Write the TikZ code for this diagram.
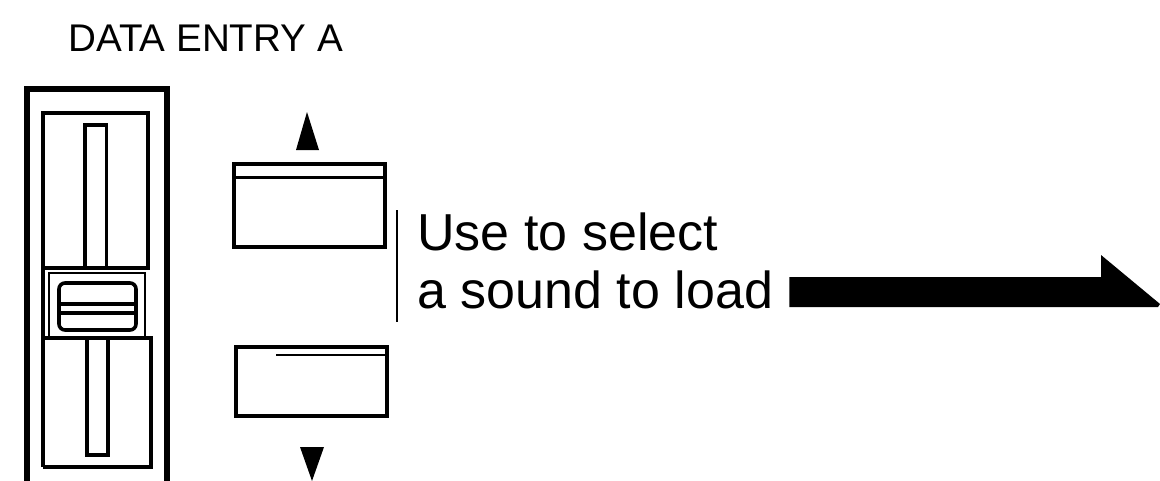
\documentclass[tikz,border=0pt]{standalone}
\usepackage{fontspec}
\setmainfont{Liberation Sans}
\usetikzlibrary{positioning,calc}

\begin{document}
\begin{tikzpicture}[x=0.5pt, y=-0.5pt]
    % Define styles
    \tikzstyle{heavy line} = [line width=3pt]
    \tikzstyle{frame line} = [line width=2.2pt]
    \tikzstyle{slot line} = [line width=1.8pt]
    \tikzstyle{hair line} = [line width=0.8pt]
    \tikzstyle{key} = [rectangle, draw, line width=2pt, inner sep=0pt]
    \tikzstyle{small caps text} = [inner sep=0pt, anchor=base west, font=\fontsize{19.3}{22}\selectfont]
    \tikzstyle{label text} = [inner sep=0pt, anchor=base west, font=\fontsize{26}{29}\selectfont]

    \useasboundingbox (0,0) rectangle (1160,481);

    % Title
    \node[small caps text] (title) at (68,52) {DATA ENTRY A};

    % Fader housing
    \draw[heavy line] (26.5,481) -- (26.5,89.5) -- (166.5,89.5) -- (166.5,481);
    \draw[frame line] (43,467) -- (43,113) -- (148,113) -- (148,268) -- (43,268);
    \draw[frame line] (43,338) -- (151,338) -- (151,467) -- (43,467);
    \draw[slot line] (85,268) -- (85,125) -- (106.5,125) -- (106.5,268);
    \draw[slot line] (87,338) -- (87,455) -- (108,455) -- (108,338);

    % Fader knob
    \draw[line width=1.2pt] (49,273) rectangle (145,338);
    \draw[slot line, rounded corners=3pt] (59,283) rectangle (136,330);
    \draw[slot line] (59,304) -- (136,304);
    \draw[slot line] (59,313) -- (136,313);

    % Keys
    \node[key, minimum width=75.5pt, minimum height=41.5pt] (upkey) at (309.5,205.5) {};
    \node[key, minimum width=75.5pt, minimum height=34.5pt] (downkey) at (311.5,381.5) {};
    \draw[line width=1.5pt] ($(upkey.north west)+(2,2)$) -- ($(upkey.north east)+(-2,2)$);
    \draw[line width=1.5pt] ($(upkey.north west)+(2,15)$) -- ($(upkey.north east)+(-2,15)$);
    \draw[line width=1.5pt] ($(downkey.north west)+(2,2)$) -- ($(downkey.north east)+(-2,2)$);
    \draw[line width=0.8pt] ($(downkey.north west)+(42,10)$) -- ($(downkey.north east)+(-4,10)$);

    % Key direction marks
    \fill (307,112) -- (319,150) -- (296,150) -- cycle;
    \fill (312,481) -- (324,447) -- (300,447) -- cycle;

    % Labels
    \draw[hair line] (397,210) -- (397,322);
    \node[label text] (uselabel) at (417,250) {Use to select};
    \node[label text] (soundlabel) at ($(uselabel.base west)+(0,58)$) {a sound to load};

    % Big arrow
    \coordinate (neck) at (1101,292);
    \coordinate (tail) at ([xshift=8pt]soundlabel.east |- neck);
    \coordinate (tip) at (1160,304);
    \fill ($(tail)+(0,-15)$) -- ($(neck)+(0,-15)$) -- ($(neck)+(0,-37)$) -- (tip)
        -- ($(tip)+(-2,3)$) -- ($(tail)+(0,15)$) -- cycle;
\end{tikzpicture}
\end{document}
